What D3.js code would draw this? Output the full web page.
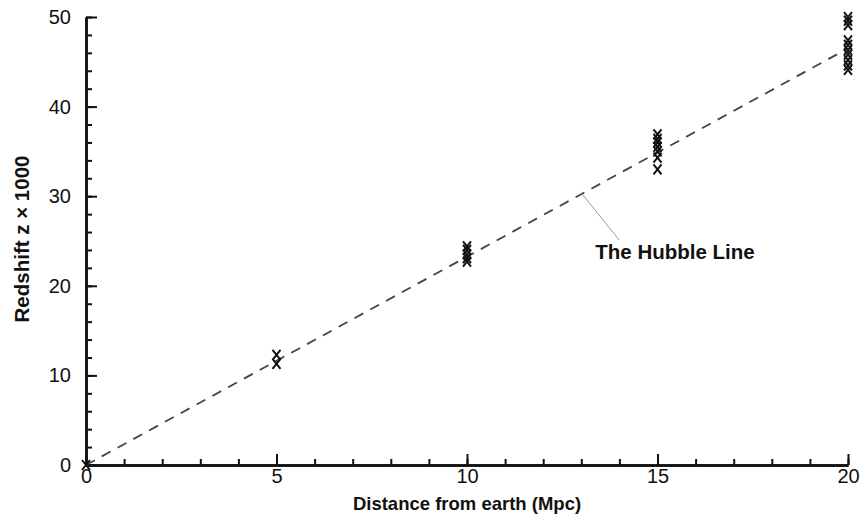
<!DOCTYPE html>
<html>
<head>
<meta charset="utf-8">
<script src="https://cdn.jsdelivr.net/npm/d3@7"></script>
<style>
  body { margin: 0; background: #fff; }
  text { font-family: "Liberation Sans", Arial, sans-serif; }
</style>
</head>
<body>
<div id="chart"></div>
<script>
// measured redshifts (z x 1000) per distance
var distances = [0, 5, 5, 10, 10, 10, 10, 10,
  15, 15, 15, 15, 15, 15, 15,
  20, 20, 20, 20, 20, 20, 20, 20, 20, 20]
var redshifts = [0, 12.3, 11.3, 24.4, 24.0, 23.5, 23.1, 22.7,
  36.9, 36.4, 36.0, 35.5, 35.0, 34.3, 33.0,
  50.0, 49.6, 49.1, 47.4, 46.9, 46.3, 45.8, 45.2, 44.6, 44.1]
var hubbleLine = [[0, 0], [20, 46.5]]
var xTicks = [0, 5, 10, 15, 20]
var yTicks = [0, 10, 20, 30, 40, 50]
var lineLabel = "The Hubble Line"

var width = 864, height = 516
var margin = {top: 17, right: 16, bottom: 51, left: 86}
var innerW = width - margin.left - margin.right,
    innerH = height - margin.top - margin.bottom

var svg = d3.select("#chart").append("svg")
    .attr("width", width)
    .attr("height", height)

var g = svg.append("g")
    .attr("transform", "translate(" + margin.left + "," + margin.top + ")")

var x = d3.scaleLinear().domain([0, 20]).range([0, innerW])
var y = d3.scaleLinear().domain([0, 50]).range([innerH, 0])

// minor ticks
var xAxisMinor = d3.axisBottom(x).tickValues(d3.range(0, 21, 1)).tickSize(-6).tickSizeOuter(0).tickFormat("")
var yAxisMinor = d3.axisLeft(y).tickValues(d3.range(0, 51, 2)).tickSize(-6).tickSizeOuter(0).tickFormat("")
var xAxis = d3.axisBottom(x).tickValues(xTicks).tickSize(-11).tickSizeOuter(0).tickPadding(4).tickFormat(d3.format("d"))
var yAxis = d3.axisLeft(y).tickValues(yTicks).tickSize(-11).tickSizeOuter(0).tickPadding(15).tickFormat(d3.format("d"))

function styleAxis(sel) {
  sel.select(".domain").attr("stroke", "#111").attr("stroke-width", 2.5)
  sel.selectAll(".tick line").attr("stroke", "#111").attr("stroke-width", 2)
  sel.selectAll(".tick text").attr("fill", "#111").style("font-size", "20px")
}

g.append("g").attr("transform", "translate(0," + innerH + ")").call(xAxisMinor).call(styleAxis)
g.append("g").call(yAxisMinor).call(styleAxis)
g.append("g").attr("transform", "translate(0," + innerH + ")").call(xAxis).call(styleAxis)
g.append("g").call(yAxis).call(styleAxis)

// hubble line
var line = d3.line()
  .x(function(d) { return x(d[0]) })
  .y(function(d) { return y(d[1]) })

g.append("path")
    .datum(hubbleLine)
    .attr("d", line)
    .attr("fill", "none")
    .attr("stroke", "#444")
    .attr("stroke-width", 1.8)
    .attr("stroke-dasharray", "10,8")

// leader + label
var lx = 13.0
var ly = y(lx * 46.5 / 20)
g.append("line")
    .attr("x1", x(lx) + 1).attr("y1", ly)
    .attr("x2", x(lx) + 38).attr("y2", ly + 46)
    .attr("stroke", "#999")
    .attr("stroke-width", 1)

g.append("text")
    .attr("x", x(lx) + 14)
    .attr("y", ly + 65)
    .attr("fill", "#111")
    .style("font-size", "20.5px")
    .style("font-weight", "bold")
    .text(lineLabel)

// data markers
var pts = distances.map(function(d, i) { return [d, redshifts[i]] })
g.append("g").selectAll("path")
    .data(pts)
  .enter().append("path")
    .attr("transform", function(d) { return "translate(" + x(d[0]) + "," + y(d[1]) + ")" })
    .attr("d", "M-4,-5L4,5M4,-5L-4,5")
    .attr("stroke", "#111")
    .attr("stroke-width", 2)
    .attr("fill", "none")

// axis titles
svg.append("text")
    .attr("x", margin.left + innerW / 2)
    .attr("y", 510)
    .attr("text-anchor", "middle")
    .attr("fill", "#111")
    .style("font-size", "18.5px")
    .style("font-weight", "bold")
    .text("Distance from earth (Mpc)")

svg.append("text")
    .attr("transform", "translate(29," + (margin.top + innerH / 2 - 2) + ") rotate(-90)")
    .attr("text-anchor", "middle")
    .attr("fill", "#111")
    .style("font-size", "20.5px")
    .style("font-weight", "bold")
    .text("Redshift z \u00d7 1000")
</script>
</body>
</html>
